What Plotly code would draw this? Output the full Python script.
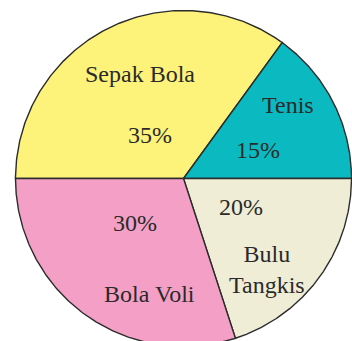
import numpy as np
import plotly.graph_objects as go

# Data: share of students by favourite sport (percent)
categories = ["Sepak Bola", "Tenis", "Bulu Tangkis", "Bola Voli"]
values = [35, 15, 20, 30]

# Styling
colors = {
    "Sepak Bola": "#FDF27A",
    "Tenis": "#0ABAC0",
    "Bulu Tangkis": "#EFEDD6",
    "Bola Voli": "#F4A0C6",
}
label_text = {"Bulu Tangkis": "Bulu<br>Tangkis"}
# label / percent anchor points in unit-circle coordinates
label_pos = {
    "Sepak Bola": (-0.257, 0.624),
    "Tenis": (0.622, 0.438),
    "Bulu Tangkis": (0.496, -0.539),
    "Bola Voli": (-0.205, -0.688),
}
pct_pos = {
    "Sepak Bola": (-0.199, 0.260),
    "Tenis": (0.443, 0.171),
    "Bulu Tangkis": (0.341, -0.169),
    "Bola Voli": (-0.289, -0.265),
}

W, H = 352, 341
CX, CY, R = 183.5, 178.5, 168.0  # pixel centre and radius of the pie
START = 270.0  # first slice begins at 9 o'clock, slices run clockwise

fig = go.Figure()
total = sum(values)
angle = START
for cat, v in zip(categories, values):
    span = 360.0 * v / total
    th = np.radians(np.linspace(angle, angle + span, 200))
    xs = np.concatenate([[0.0], np.sin(th), [0.0]])
    ys = np.concatenate([[0.0], np.cos(th), [0.0]])
    fig.add_trace(go.Scatter(
        x=xs, y=ys, mode="lines", fill="toself",
        fillcolor=colors[cat],
        line=dict(color="#2B2B2B", width=1.4),
        hoverinfo="text", text=f"{cat}: {v}%", showlegend=False,
    ))
    angle += span

font = dict(family="Liberation Serif, Times New Roman, serif", size=24, color="#2A2A2A")
for cat, v in zip(categories, values):
    lx, ly = label_pos[cat]
    fig.add_annotation(x=lx, y=ly, text=label_text.get(cat, cat), showarrow=False,
                       font=font, xanchor="center", yanchor="middle")
    px, py = pct_pos[cat]
    fig.add_annotation(x=px, y=py, text=f"{v}%", showarrow=False,
                       font=font, xanchor="center", yanchor="middle")

fig.update_xaxes(range=[-CX / R, (W - CX) / R], visible=False, fixedrange=True)
fig.update_yaxes(range=[-(H - CY) / R, CY / R], visible=False, fixedrange=True)
fig.update_layout(
    width=W, height=H,
    margin=dict(l=0, r=0, t=0, b=0),
    paper_bgcolor="white", plot_bgcolor="white",
)

fig.write_html("out.html", config={"displayModeBar": False})
